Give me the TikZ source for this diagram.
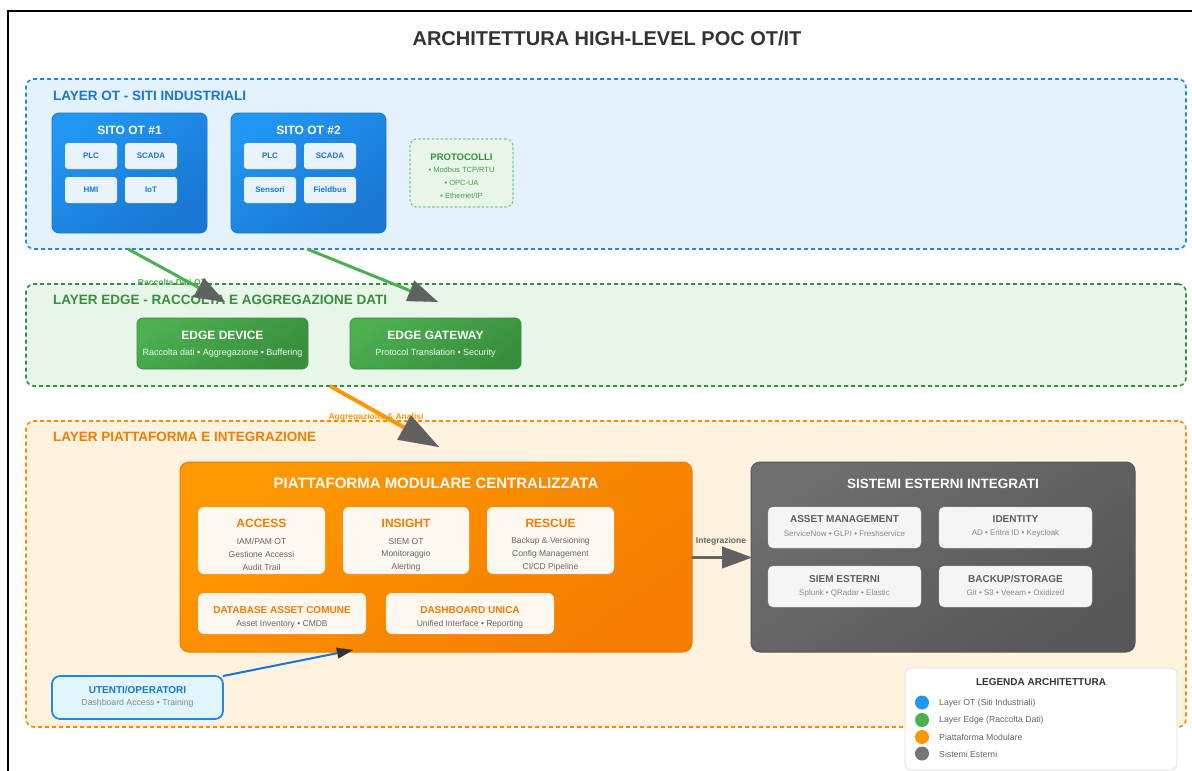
\documentclass[tikz,border=0pt]{standalone}
\usepackage{fontspec}
\setmainfont{Liberation Sans}
\usetikzlibrary{arrows.meta}
\definecolor{otblue}{HTML}{1E88E5}
\definecolor{otbluedark}{HTML}{1976D2}
\definecolor{otbluelight}{HTML}{2196F3}
\definecolor{otfill}{HTML}{E3F2FD}
\definecolor{otinner}{HTML}{E8F3FD}
\definecolor{edgegreen}{HTML}{43A047}
\definecolor{edgegreendark}{HTML}{388E3C}
\definecolor{edgegreenlight}{HTML}{4CAF50}
\definecolor{edgefill}{HTML}{E8F5E9}
\definecolor{protoborder}{HTML}{81C784}
\definecolor{platorange}{HTML}{FB8C00}
\definecolor{platorangedark}{HTML}{F57C00}
\definecolor{platorangelight}{HTML}{FF9800}
\definecolor{platfill}{HTML}{FFF3E0}
\definecolor{platinner}{HTML}{FFF8F1}
\definecolor{extgray}{HTML}{616161}
\definecolor{extgraylight}{HTML}{6E6E6E}
\definecolor{extgraydark}{HTML}{575757}
\definecolor{extinner}{HTML}{F5F5F5}
\definecolor{arrowgray}{HTML}{616161}
\definecolor{txtdark}{HTML}{333333}
\definecolor{txtgray}{HTML}{666666}
\definecolor{txtlight}{HTML}{888888}
\definecolor{userfill}{HTML}{E1F5FE}
\definecolor{legendborder}{HTML}{DDDDDD}
\definecolor{legendgray}{HTML}{757575}
\tikzset{
  fs/.style={font=\fontsize{#1}{#1}\selectfont},
  fsb/.style={font=\fontsize{#1}{#1}\selectfont\bfseries},
  bx/.style={inner sep=0pt, outer sep=0pt},
  layerot/.style={bx, draw=otblue, fill=otfill, line width=1.6pt, dash pattern=on 4pt off 3pt, rounded corners=8pt},
  layeredge/.style={bx, draw=edgegreendark, fill=edgefill, line width=1.6pt, dash pattern=on 4pt off 3pt, rounded corners=8pt},
  layerplat/.style={bx, draw=platorange, fill=platfill, line width=1.6pt, dash pattern=on 4pt off 3pt, rounded corners=8pt},
  sitobox/.style={bx, draw=otbluedark, line width=0.8pt, rounded corners=7pt, top color=otbluelight, bottom color=otbluedark, shading angle=35},
  sitoinner/.style={bx, fill=otinner, rounded corners=3pt, minimum width=52pt, minimum height=26pt, text=otbluedark, fsb=8},
  protobox/.style={bx, draw=protoborder, fill=edgefill, line width=1.2pt, dash pattern=on 2.5pt off 2pt, rounded corners=7pt},
  edgebox/.style={bx, draw=edgegreendark, line width=0.8pt, rounded corners=6pt, top color=edgegreenlight, bottom color=edgegreendark, shading angle=35},
  platbox/.style={bx, draw=platorangedark, line width=1pt, rounded corners=9pt, top color=platorangelight, bottom color=platorangedark, shading angle=35},
  platinnerbox/.style={bx, fill=platinner, rounded corners=6pt},
  extbox/.style={bx, draw=extgraydark, line width=1pt, rounded corners=9pt, top color=extgraylight, bottom color=extgraydark, shading angle=35},
  extinnerbox/.style={bx, fill=extinner, draw=extinner!85!black, line width=0.3pt, rounded corners=5pt, minimum width=153pt, minimum height=41pt},
  userbox/.style={bx, draw=otblue, fill=userfill, line width=1.8pt, rounded corners=8pt},
  legendbox/.style={bx, draw=legendborder, fill=white, line width=0.8pt, rounded corners=6pt},
  lbl/.style={inner sep=0pt, anchor=center},
  bigtip/.style={-{Triangle[length=30pt,width=22pt,color=arrowgray,line width=0.1pt]}},
}
\begin{document}
\begin{tikzpicture}[x=1pt,y=-1pt]
\useasboundingbox (0,0) rectangle (1192,771);
\clip (0,0) rectangle (1192,771);
\fill[white] (0,0) rectangle (1192,771);
\draw[line width=2pt, black] (8,11) rectangle (1215,800);

% title
\node[lbl, fsb=20, text=txtdark] (title) at (607,38) {ARCHITETTURA HIGH-LEVEL POC OT/IT};

% layers
\node[layerot, minimum width=1160pt, minimum height=170pt] (layerOT) at (606,164) {};
\node[lbl, anchor=west, fsb=13.5, text=otbluedark] (layerOTt) at (53,96) {LAYER OT - SITI INDUSTRIALI};
\node[layeredge, minimum width=1160pt, minimum height=102pt] (layerEdge) at (606,335) {};
\node[lbl, anchor=west, fsb=13.5, text=edgegreendark] (layerEdget) at (53,300) {LAYER EDGE - RACCOLTA E AGGREGAZIONE DATI};
\node[layerplat, minimum width=1160pt, minimum height=306pt] (layerPlat) at (606,574) {};
\node[lbl, anchor=west, fsb=13.5, text=platorangedark] (layerPlatt) at (53,437) {LAYER PIATTAFORMA E INTEGRAZIONE};

% OT sites
\node[sitobox, minimum width=155pt, minimum height=120pt] (sito1) at (129.5,173) {};
\node[lbl, fsb=12, text=white] (sito1t) at (129.5,130) {SITO OT \#1};
\node[sitoinner] (plc1) at (91,156) {PLC};
\node[sitoinner] (scada1) at (151,156) {SCADA};
\node[sitoinner] (hmi1) at (91,190) {HMI};
\node[sitoinner] (iot1) at (151,190) {IoT};

\node[sitobox, minimum width=155pt, minimum height=120pt] (sito2) at (308.5,173) {};
\node[lbl, fsb=12, text=white] (sito2t) at (308.5,130) {SITO OT \#2};
\node[sitoinner] (plc2) at (270,156) {PLC};
\node[sitoinner] (scada2) at (330,156) {SCADA};
\node[sitoinner] (sens2) at (270,190) {Sensori};
\node[sitoinner] (field2) at (330,190) {Fieldbus};

% protocols
\node[protobox, minimum width=103pt, minimum height=68pt] (proto) at (461.5,173) {};
\node[lbl, fsb=9.5, text=edgegreendark] (protot) at (461.5,157) {PROTOCOLLI};
\node[lbl, fs=7.5, text=edgegreen] (proto1) at (461.5,170) {• Modbus TCP/RTU};
\node[lbl, fs=7.5, text=edgegreen] (proto2) at (461.5,183) {• OPC-UA};
\node[lbl, fs=7.5, text=edgegreen] (proto3) at (461.5,196) {• Ethernet/IP};

% edge boxes
\node[edgebox, minimum width=171pt, minimum height=51pt] (edgedev) at (222.5,343.5) {};
\node[lbl, fsb=12, text=white] (edgedevt) at (222.5,335) {EDGE DEVICE};
\node[lbl, fs=9, text=white!92!green] (edgedevs) at (222.5,353) {Raccolta dati • Aggregazione • Buffering};
\node[edgebox, minimum width=171pt, minimum height=51pt] (edgegw) at (435.5,343.5) {};
\node[lbl, fsb=12, text=white] (edgegwt) at (435.5,335) {EDGE GATEWAY};
\node[lbl, fs=9, text=white!92!green] (edgegws) at (435.5,353) {Protocol Translation • Security};

% platform
\node[platbox, minimum width=512pt, minimum height=190pt] (plat) at (436,557) {};
\node[lbl, fsb=15, text=white] (platt) at (436,483) {PIATTAFORMA MODULARE CENTRALIZZATA};

\node[platinnerbox, minimum width=127pt, minimum height=67pt] (access) at (261.5,540.5) {};
\node[lbl, fsb=12, text=platorangedark] (accesst) at (261.5,523) {ACCESS};
\node[lbl, fs=8.5, text=txtgray] (access1) at (261.5,541.5) {IAM/PAM OT};
\node[lbl, fs=8.5, text=txtgray] (access2) at (261.5,554.5) {Gestione Accessi};
\node[lbl, fs=8.5, text=txtgray] (access3) at (261.5,567) {Audit Trail};

\node[platinnerbox, minimum width=126pt, minimum height=67pt] (insight) at (406,540.5) {};
\node[lbl, fsb=12, text=platorangedark] (insightt) at (406,523) {INSIGHT};
\node[lbl, fs=8.5, text=txtgray] (insight1) at (406,541.5) {SIEM OT};
\node[lbl, fs=8.5, text=txtgray] (insight2) at (406,554.5) {Monitoraggio};
\node[lbl, fs=8.5, text=txtgray] (insight3) at (406,567) {Alerting};

\node[platinnerbox, minimum width=127pt, minimum height=67pt] (rescue) at (550.5,540.5) {};
\node[lbl, fsb=12, text=platorangedark] (rescuet) at (550.5,523) {RESCUE};
\node[lbl, fs=8.5, text=txtgray] (rescue1) at (550.5,541.5) {Backup \& Versioning};
\node[lbl, fs=8.5, text=txtgray] (rescue2) at (550.5,554.5) {Config Management};
\node[lbl, fs=8.5, text=txtgray] (rescue3) at (550.5,567) {CI/CD Pipeline};

\node[platinnerbox, minimum width=168pt, minimum height=41pt] (db) at (282,613.5) {};
\node[lbl, fsb=10, text=platorangedark] (dbt) at (282,610) {DATABASE ASSET COMUNE};
\node[lbl, fs=8.5, text=txtgray] (dbs) at (282,624) {Asset Inventory • CMDB};

\node[platinnerbox, minimum width=168pt, minimum height=41pt] (dash) at (470,613.5) {};
\node[lbl, fsb=10, text=platorangedark] (dasht) at (470,610) {DASHBOARD UNICA};
\node[lbl, fs=8.5, text=txtgray] (dashs) at (470,624) {Unified Interface • Reporting};

% external systems
\node[extbox, minimum width=384pt, minimum height=190pt] (ext) at (943,557) {};
\node[lbl, fsb=13.5, text=white] (extt) at (943,484) {SISTEMI ESTERNI INTEGRATI};

\node[extinnerbox] (am) at (844.5,527.5) {};
\node[lbl, fsb=10, text=txtgray!90!black] (amt) at (844.5,519.5) {ASSET MANAGEMENT};
\node[lbl, fs=8, text=txtlight] (ams) at (844.5,533.5) {ServiceNow • GLPI • Freshservice};
\node[extinnerbox] (idn) at (1015.5,527.5) {};
\node[lbl, fsb=10, text=txtgray!90!black] (idnt) at (1015.5,519.5) {IDENTITY};
\node[lbl, fs=8, text=txtlight] (idns) at (1015.5,533.5) {AD • Entra ID • Keycloak};
\node[extinnerbox] (siem) at (844.5,586.5) {};
\node[lbl, fsb=10, text=txtgray!90!black] (siemt) at (844.5,579) {SIEM ESTERNI};
\node[lbl, fs=8, text=txtlight] (siems) at (844.5,593) {Splunk • QRadar • Elastic};
\node[extinnerbox] (bkp) at (1015.5,586.5) {};
\node[lbl, fsb=10, text=txtgray!90!black] (bkpt) at (1015.5,579) {BACKUP/STORAGE};
\node[lbl, fs=8, text=txtlight] (bkps) at (1015.5,593) {Git • S3 • Veeam • Oxidized};

% users
\node[userbox, minimum width=171pt, minimum height=43pt] (user) at (137.5,697.5) {};
\node[lbl, fsb=10, text=otbluedark] (usert) at (137.5,690) {UTENTI/OPERATORI};
\node[lbl, fs=8.7, text=txtlight] (users) at (137.5,703.5) {Dashboard Access • Training};

% legend
\node[legendbox, minimum width=272pt, minimum height=102pt] (legend) at (1041,719) {};
\node[lbl, fsb=10, text=txtdark] (legendt) at (1041,682) {LEGENDA ARCHITETTURA};
\fill[otbluelight] (922,702.5) circle (7pt);
\fill[edgegreenlight] (922,720) circle (7pt);
\fill[platorangelight] (922,737) circle (7pt);
\fill[legendgray] (922,753.5) circle (7pt);
\node[lbl, anchor=west, fs=8.7, text=txtgray] (leg1) at (939,703) {Layer OT (Siti Industriali)};
\node[lbl, anchor=west, fs=8.7, text=txtgray] (leg2) at (939,720) {Layer Edge (Raccolta Dati)};
\node[lbl, anchor=west, fs=8.7, text=txtgray] (leg3) at (939,737) {Piattaforma Modulare};
\node[lbl, anchor=west, fs=8.7, text=txtgray] (leg4) at (939,754) {Sistemi Esterni};

% connectors
\coordinate (a1s) at (128,249);
\coordinate (a1e) at (225,302);
\coordinate (a2s) at (307,249);
\coordinate (a2e) at (438,302);
\coordinate (a3s) at (330,386);
\coordinate (a3e) at (439,447);
\coordinate (a4s) at (692,557.5);
\coordinate (a4e) at (752,557.5);
\coordinate (a5e) at (353,650);

\node[lbl, fsb=8.5, text=edgegreenlight] (lblraccolta) at (172,282) {Raccolta Dati OT};
\node[lbl, fsb=8.5, text=platorangelight] (lblaggr) at (376,417) {Aggregazione \& Analisi};
\node[lbl, fsb=8.5, text=txtgray] (lblint) at (721,541.5) {Integrazione};

\draw[bigtip, edgegreenlight, line width=3pt] (a1s) -- (a1e);
\draw[bigtip, edgegreenlight, line width=3pt] (a2s) -- (a2e);
\draw[-{Triangle[length=40pt,width=28pt,color=arrowgray,line width=0.1pt]}, platorangelight, line width=4pt] (a3s) -- (a3e);
\draw[bigtip, txtgray, line width=2.5pt] (a4s) -- (a4e);
\draw[-{Triangle[length=16pt,width=11pt,color=txtdark,line width=0.1pt]}, otbluedark, line width=2pt] (user.north east) -- (a5e);
\end{tikzpicture}
\end{document}
